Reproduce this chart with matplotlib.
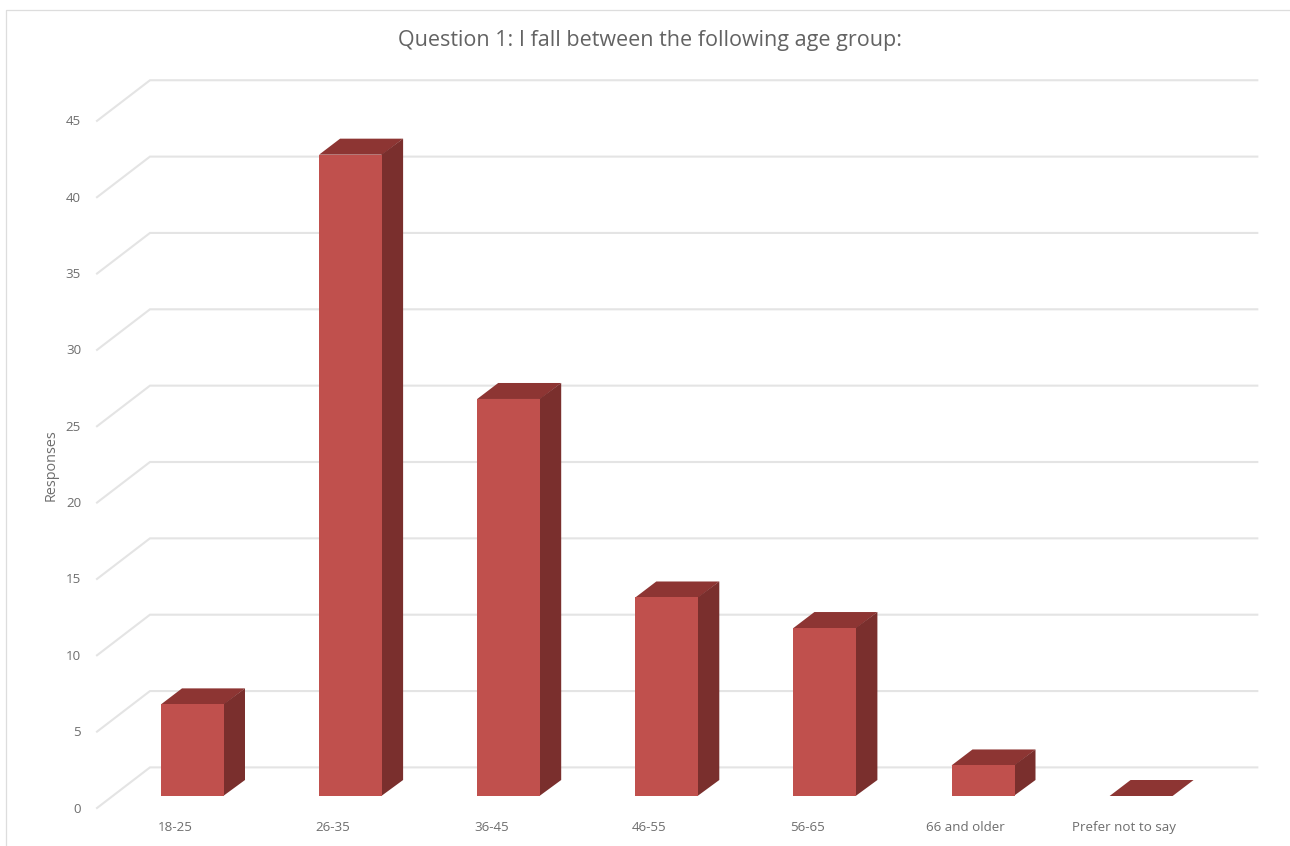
#! /usr/bin/env python
"""Survey responses per age group, drawn as a pseudo-3D column chart."""

import matplotlib
matplotlib.use('Agg')
import matplotlib.pyplot as plt

plt.rcParams['font.family'] = ['Open Sans', 'DejaVu Sans']

title = 'Question 1: I fall between the following age group:'
ylabel = 'Responses'
age_groups = ['18-25', '26-35', '36-45', '46-55', '56-65', '66 and older',
              'Prefer not to say']
responses = [6, 42, 26, 13, 11, 2, 0]
value_ticks = [0, 5, 10, 15, 20, 25, 30, 35, 40, 45]

front_color = '#c0504d'
top_color = '#8d3533'
side_color = '#7a2f2d'
grid_color = '#e4e4e4'
text_color = '#6e6e6e'

W, H = 1290, 846
# pixels per category / per response
xscale = 158.1
yscale = 15.27

bar_width = 63 / xscale
# bar extrusion
dx = 21 / xscale
dy = 16 / yscale
# floor edge and back wall, relative to the bar base line
wall_left = -0.604
wall_back = -0.269
wall_right = 6.735
floor_dy = -12 / yscale
wall_dy = 28.6 / yscale

fig = plt.figure(figsize=(W / 100, H / 100), dpi=100)
# axes cover the whole canvas, the limits put the bars on the category grid
ax = fig.add_axes([0, 0, 1, 1])
ax.set_xlim(-192.5 / xscale, (W - 192.5) / xscale)
ax.set_ylim(-(H - 796) / yscale, 796 / yscale)
ax.axis('off')

# outer frame
fig.add_artist(plt.Line2D([6 / W, 6 / W, 1], [0, 1 - 10.5 / H, 1 - 10.5 / H],
                          color='#dddddd', lw=0.9))

for v in value_ticks:
    ax.plot([wall_left, wall_back, wall_right],
            [v + floor_dy, v + wall_dy, v + wall_dy],
            color=grid_color, lw=1.5, zorder=1, solid_joinstyle='miter')
    ax.text(wall_left - 16 / xscale, v + floor_dy - 1 / yscale, str(v),
            ha='right', va='center', fontsize=9.6, color=text_color)

for i, (group, n) in enumerate(zip(age_groups, responses)):
    x0 = i - bar_width / 2
    x1 = i + bar_width / 2
    ax.fill([x0, x1, x1 + dx, x0 + dx], [n, n, n + dy, n + dy],
            color=top_color, lw=0, zorder=2)
    if n > 0:
        # side face runs slightly under the front face to hide the seam
        ax.fill([x1 - 0.005, x1 + dx, x1 + dx, x1 - 0.005],
                [0, dy, n + dy, n], color=side_color, lw=0, zorder=2)
    ax.bar(i, n, bar_width, color=front_color, zorder=3)
    ax.text(i - 17.5 / xscale, -31 / yscale, group, ha='center', va='center',
            fontsize=9.6, color=text_color)

ax.text(-141.5 / xscale, 331 / yscale, ylabel, rotation=90, ha='center',
        va='center', fontsize=10.4, color=text_color)
ax.text(457 / xscale, 755 / yscale, title, ha='center', va='center',
        fontsize=15.5, color='#636363')

fig.savefig('out.png', dpi=100, facecolor='white')
